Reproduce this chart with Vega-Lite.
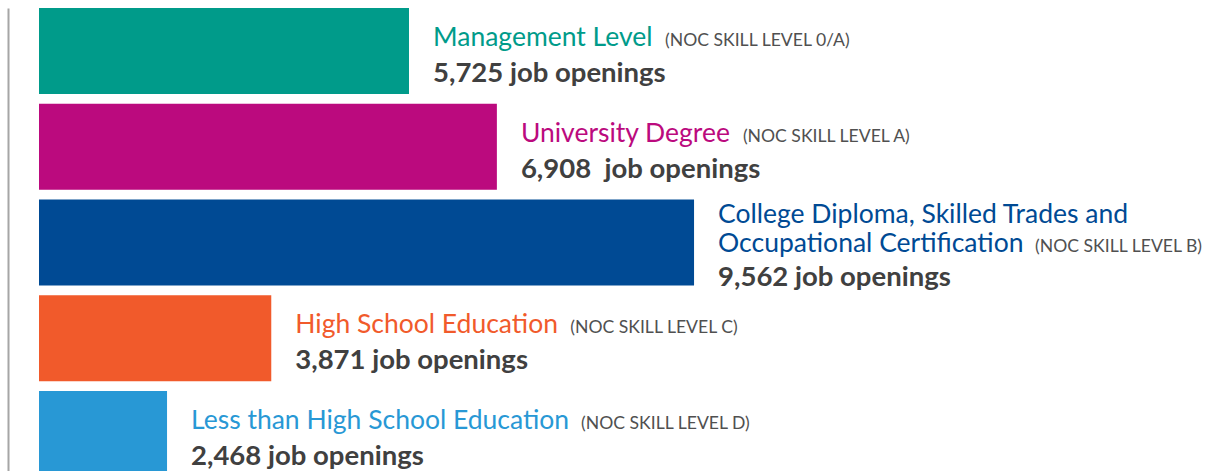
{
  "$schema": "https://vega.github.io/schema/vega-lite/v6.json",
  "width": 1177,
  "height": 469,
  "autosize": {"type": "none"},
  "padding": {"left": 39, "top": 8, "right": 0, "bottom": 0},
  "config": {"view": {"stroke": null}, "font": "Lato"},
  "data": {
    "values": [
      {"category": "Management Level", "noc": "(NOC SKILL LEVEL 0/A)", "openings": 5725, "label": "5,725 job openings"},
      {"category": "University Degree", "noc": "(NOC SKILL LEVEL A)", "openings": 6908, "label": "6,908\u00a0 job openings"},
      {"category": "College Diploma, Skilled Trades and|Occupational Certification", "noc": "(NOC SKILL LEVEL B)", "openings": 9562, "label": "9,562 job openings"},
      {"category": "High School Education", "noc": "(NOC SKILL LEVEL C)", "openings": 3871, "label": "3,871 job openings"},
      {"category": "Less than High School Education", "noc": "(NOC SKILL LEVEL D)", "openings": 2468, "label": "2,468 job openings"}
    ]
  },
  "encoding": {
    "y": {
      "field": "category",
      "type": "nominal",
      "sort": null,
      "scale": {"paddingInner": 0.1018, "paddingOuter": 0},
      "axis": {"labels": false, "ticks": false, "title": null, "grid": false, "domainColor": "#a6a6a6", "domainWidth": 2, "offset": 31}
    },
    "x": {
      "field": "openings",
      "type": "quantitative",
      "scale": {"domain": [744.5, 16588], "nice": false, "zero": false},
      "axis": null
    },
    "color": {
      "field": "category",
      "type": "nominal",
      "scale": {
        "domain": ["Management Level", "University Degree", "College Diploma, Skilled Trades and|Occupational Certification", "High School Education", "Less than High School Education"],
        "range": ["#009b8a", "#bb0a7e", "#004a94", "#f15a2b", "#2898d5"]
      },
      "legend": null
    }
  },
  "layer": [
    {"mark": {"type": "bar", "clip": true}},
    {
      "transform": [{"filter": "indexof(datum.category, 'College') < 0"}],
      "mark": {"type": "text", "align": "left", "baseline": "alphabetic", "dx": 24, "dy": -5, "fontSize": 26.5},
      "encoding": {"text": {"field": "category", "type": "nominal"}}
    },
    {
      "transform": [{"filter": "indexof(datum.category, 'College') >= 0"}],
      "mark": {"type": "text", "align": "left", "baseline": "alphabetic", "dx": 24, "dy": -20, "fontSize": 26.5, "lineBreak": "|", "lineHeight": 29},
      "encoding": {"text": {"field": "category", "type": "nominal"}}
    },
    {
      "transform": [{"filter": "indexof(datum.category, 'College') < 0"}],
      "mark": {"type": "text", "align": "left", "baseline": "alphabetic", "dx": 24, "dy": 31, "fontSize": 27.5, "fontWeight": "bold"},
      "encoding": {"text": {"field": "label", "type": "nominal"}, "color": {"value": "#404040"}}
    },
    {
      "transform": [{"filter": "indexof(datum.category, 'College') >= 0"}],
      "mark": {"type": "text", "align": "left", "baseline": "alphabetic", "dx": 24, "dy": 43, "fontSize": 27.5, "fontWeight": "bold"},
      "encoding": {"text": {"field": "label", "type": "nominal"}, "color": {"value": "#404040"}}
    },
    {
      "transform": [{"filter": "datum.category == 'Management Level'"}],
      "mark": {"type": "text", "align": "left", "baseline": "alphabetic", "dx": 256, "dy": -5, "fontSize": 17.6},
      "encoding": {"text": {"field": "noc", "type": "nominal"}, "color": {"value": "#505050"}}
    },
    {
      "transform": [{"filter": "datum.category == 'University Degree'"}],
      "mark": {"type": "text", "align": "left", "baseline": "alphabetic", "dx": 246, "dy": -5, "fontSize": 17.6},
      "encoding": {"text": {"field": "noc", "type": "nominal"}, "color": {"value": "#505050"}}
    },
    {
      "transform": [{"filter": "indexof(datum.category, 'College') >= 0"}],
      "mark": {"type": "text", "align": "left", "baseline": "alphabetic", "dx": 341, "dy": 9, "fontSize": 17.6},
      "encoding": {"text": {"field": "noc", "type": "nominal"}, "color": {"value": "#505050"}}
    },
    {
      "transform": [{"filter": "datum.category == 'High School Education'"}],
      "mark": {"type": "text", "align": "left", "baseline": "alphabetic", "dx": 299, "dy": -5, "fontSize": 17.6},
      "encoding": {"text": {"field": "noc", "type": "nominal"}, "color": {"value": "#505050"}}
    },
    {
      "transform": [{"filter": "datum.category == 'Less than High School Education'"}],
      "mark": {"type": "text", "align": "left", "baseline": "alphabetic", "dx": 414, "dy": -5, "fontSize": 17.6},
      "encoding": {"text": {"field": "noc", "type": "nominal"}, "color": {"value": "#505050"}}
    }
  ]
}
